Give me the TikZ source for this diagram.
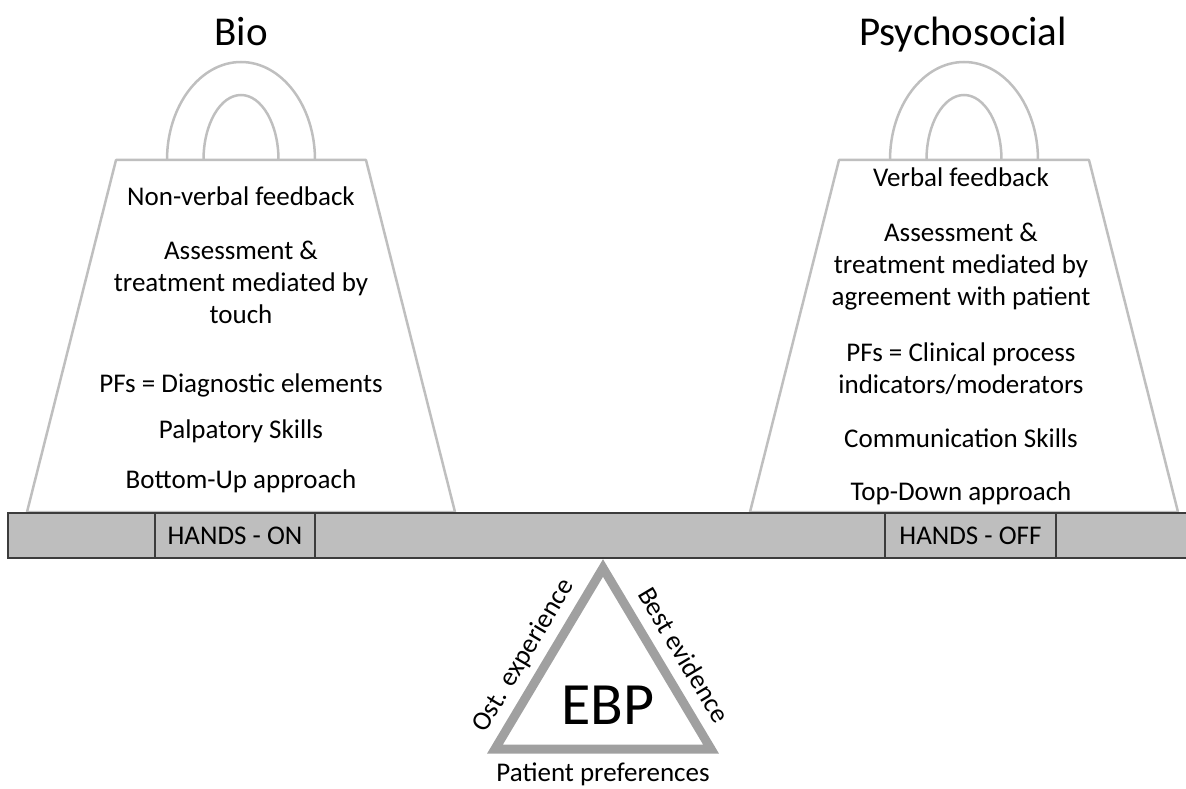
\documentclass[tikz,border=0pt]{standalone}
\usepackage{fontspec}
\setmainfont{Carlito}
\usetikzlibrary{positioning,calc}
\definecolor{weightgray}{RGB}{191,191,191}
\definecolor{beamgray}{RGB}{190,190,190}
\definecolor{beamline}{RGB}{60,60,60}
\definecolor{pivotgray}{RGB}{160,160,160}

\begin{document}
\begin{tikzpicture}[x=1pt,y=-1pt,
    handle/.style={draw=weightgray,line width=2.5pt},
    weight/.style={draw=weightgray,line width=2.5pt,fill=white,line join=round},
    beam/.style={draw=beamline,line width=1.5pt,fill=beamgray},
    hand node/.style={draw=beamline,line width=1.5pt,minimum width=160pt,minimum height=45pt,inner sep=0pt,font=\fontsize{27}{32}\selectfont},
    main node/.style={align=center,inner sep=0pt,anchor=base,font=\fontsize{27}{32}\selectfont},
    title node/.style={inner sep=0pt,anchor=base,font=\fontsize{41}{48}\selectfont}]

  \useasboundingbox (0,0) rectangle (1186,789);

  % the two weights
  \foreach \cx in {241,964}{
    \begin{scope}[shift={(\cx,0)}]
      \draw[handle] (-74,160) arc[start angle=180,end angle=0,x radius=74pt,y radius=98pt];
      \draw[handle] (-37.5,160) arc[start angle=180,end angle=0,x radius=37.5pt,y radius=65pt];
      \draw[weight] (-125,160) -- (125,160) -- (214,512) -- (-214,512) -- cycle;
    \end{scope}
  }

  % beam
  \draw[beam] (8,513) rectangle (1195,558);
  \node[hand node] (on) at (235,535.5) {HANDS - ON};
  \node[hand node,minimum width=171pt] (off) at (970.5,535.5) {HANDS - OFF};

  \node[title node] (bio) at (241,46) {Bio};
  \node[title node] (psy) at (963,46) {Psychosocial};

  % base anchor = baseline of the last line
  \node[main node] (bio1) at (241,205) {Non-verbal feedback};
  \node[main node] (bio2) at (241,323) {Assessment \&\\treatment mediated by\\touch};
  \node[main node] (bio3) at (241,392) {PFs = Diagnostic elements};
  \node[main node] (bio4) at (241,438) {Palpatory Skills};
  \node[main node] (bio5) at (241,488) {Bottom-Up approach};

  \node[main node] (psy1) at (961,186) {Verbal feedback};
  \node[main node] (psy2) at (961,305) {Assessment \&\\treatment mediated by\\agreement with patient};
  \node[main node] (psy3) at (961,393) {PFs = Clinical process\\indicators/moderators};
  \node[main node] (psy4) at (961,447) {Communication Skills};
  \node[main node] (psy5) at (961,500) {Top-Down approach};

  % pivot
  \coordinate (apex) at (603,568);
  \coordinate (bl) at (495,749);
  \coordinate (br) at (711,749);
  \draw[pivotgray,line width=9pt,miter limit=10] (apex) -- (br) -- (bl) -- cycle;
  \node[inner sep=0pt,anchor=base,font=\fontsize{60}{66}\selectfont] (ebp) at (608,724) {EBP};
  \node[main node] (pat) at (603,781) {Patient preferences};
  \path ($(bl)!16pt!90:(apex)$) -- node[main node,sloped,pos=0.45] (ost) {Ost. experience} ($(apex)!16pt!-90:(bl)$);
  \path ($(apex)!16pt!90:(br)$) -- node[main node,sloped,pos=0.55] (best) {Best evidence} ($(br)!16pt!-90:(apex)$);
\end{tikzpicture}
\end{document}
